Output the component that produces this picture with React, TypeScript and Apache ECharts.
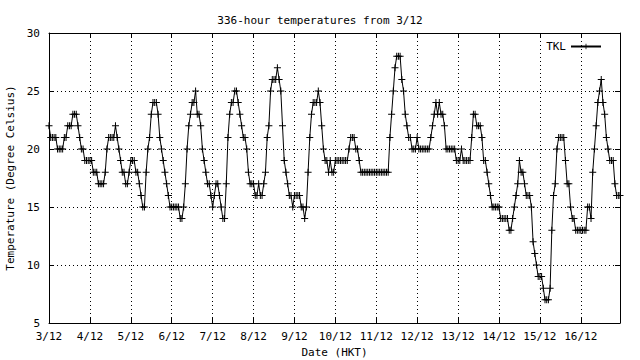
import React, { useEffect, useRef } from "react";
import * as echarts from "echarts";

const dayLabels = ["3/12", "4/12", "5/12", "6/12", "7/12", "8/12", "9/12", "10/12", "11/12", "12/12", "13/12", "14/12", "15/12", "16/12"];
const yTicks = [5, 10, 15, 20, 25, 30];

const d03 = [22, 21, 21, 21, 21, 20, 20, 20, 20, 21, 21, 22, 22, 22, 23, 23, 23, 22, 21, 20, 20, 19, 19, 19];
const d04 = [19, 19, 18, 18, 18, 17, 17, 17, 17, 18, 20, 21, 21, 21, 21, 22, 21, 20, 19, 18, 18, 17, 17, 18];
const d05 = [19, 19, 19, 18, 18, 17, 16, 15, 15, 18, 20, 21, 23, 24, 24, 24, 23, 21, 20, 19, 18, 17, 16, 15];
const d06 = [15, 15, 15, 15, 15, 14, 14, 15, 17, 20, 22, 23, 24, 24, 25, 23, 23, 22, 20, 19, 18, 17, 17, 16];
const d07 = [15, 16, 17, 17, 16, 15, 14, 14, 17, 21, 23, 24, 24, 25, 25, 24, 23, 22, 21, 21, 20, 18, 17, 17];
const d08 = [17, 16, 16, 17, 16, 16, 17, 18, 21, 22, 25, 26, 26, 26, 27, 26, 25, 22, 19, 18, 17, 16, 16, 15];
const d09 = [16, 16, 16, 16, 15, 15, 14, 15, 18, 21, 23, 24, 24, 24, 25, 24, 22, 20, 19, 19, 18, 19, 18, 18];
const d10 = [19, 19, 19, 19, 19, 19, 19, 19, 20, 21, 21, 21, 20, 20, 19, 18, 18, 18, 18, 18, 18, 18, 18, 18];
const d11 = [18, 18, 18, 18, 18, 18, 18, 18, 21, 23, 25, 27, 28, 28, 28, 26, 25, 23, 22, 21, 21, 20, 20, 20];
const d12 = [21, 20, 20, 20, 20, 20, 20, 20, 21, 22, 23, 24, 23, 24, 23, 23, 22, 20, 20, 20, 20, 20, 20, 19];
const d13 = [19, 19, 20, 19, 19, 19, 19, 19, 21, 23, 23, 22, 22, 22, 21, 19, 19, 18, 17, 16, 15, 15, 15, 15];
const d14 = [15, 14, 14, 14, 14, 14, 13, 13, 14, 15, 16, 17, 19, 18, 18, 17, 16, 16, 16, 15, 12, 11, 10, 9];
const d15 = [9, 9, 8, 7, 7, 7, 8, 13, 16, 17, 20, 21, 21, 21, 21, 19, 17, 17, 15, 14, 14, 13, 13, 13];
const d16 = [13, 13, 13, 13, 15, 15, 14, 18, 20, 22, 24, 25, 26, 24, 23, 21, 20, 19, 19, 19, 17, 16, 16, 16];

const temps = [...d03, ...d04, ...d05, ...d06, ...d07, ...d08, ...d09, ...d10, ...d11, ...d12, ...d13, ...d14, ...d15, ...d16];

const FONT = "DejaVu Sans Mono";
const PLUS = "path://M0,3h7v1h-7z M3,0h1v7h-1z";

export default function App() {
  const ref = useRef<HTMLDivElement>(null);
  useEffect(() => {
    if (!ref.current) return;
    const chart = echarts.init(ref.current, null, { renderer: "svg" });
    const txt = { fontFamily: FONT, fontSize: 11, color: "#000" };
    const xBase = {
      type: "value" as const,
      min: 0,
      max: temps.length - 1,
      interval: 24,
      axisLine: { show: true, onZero: false, lineStyle: { color: "#000", width: 1 } },
      axisTick: { show: true, inside: true, length: 5, lineStyle: { color: "#000" } },
    };
    const yBase = {
      type: "value" as const,
      min: yTicks[0],
      max: yTicks[yTicks.length - 1],
      interval: 5,
      axisLine: { show: true, onZero: false, lineStyle: { color: "#000", width: 1 } },
      axisTick: { show: true, inside: true, length: 5, lineStyle: { color: "#000" } },
    };
    chart.setOption({
      animation: false,
      backgroundColor: "#fff",
      title: {
        text: "336-hour temperatures from 3/12",
        left: "center",
        top: 10,
        textStyle: { ...txt, fontWeight: "normal" },
      },
      legend: {
        right: 33,
        top: 36,
        align: "right",
        itemWidth: 30,
        itemHeight: 7,
        itemGap: 10,
        textStyle: { ...txt },
        data: ["TKL"],
      },
      grid: { left: 49, right: 20, top: 33, bottom: 37, containLabel: false, outerBoundsMode: "none" },
      xAxis: [
        {
          ...xBase,
          position: "bottom",
          name: "Date (HKT)",
          nameLocation: "middle",
          nameGap: 24,
          nameTextStyle: { ...txt },
          axisLabel: {
            ...txt,
            margin: 8,
            formatter: (v: number) => dayLabels[Math.round(v / 24)] ?? "",
          },
          splitLine: { show: true, lineStyle: { color: "#000", type: [1, 3], width: 1 } },
        },
        {
          ...xBase,
          position: "top",
          axisLabel: { show: false },
          splitLine: { show: false },
        },
      ],
      yAxis: [
        {
          ...yBase,
          position: "left",
          name: "Temperature (Degree Celsius)",
          nameLocation: "middle",
          nameGap: 33,
          nameTextStyle: { ...txt },
          axisLabel: { ...txt, margin: 9 },
          splitLine: { show: true, lineStyle: { color: "#000", type: [1, 3], width: 1 } },
        },
        {
          ...yBase,
          position: "right",
          axisLabel: { show: false },
          splitLine: { show: false },
        },
      ],
      series: [
        {
          name: "TKL",
          type: "line",
          xAxisIndex: 0,
          yAxisIndex: 0,
          data: temps.map((t, i) => [i, t]),
          symbol: PLUS,
          symbolSize: 7,
          showAllSymbol: true,
          color: "#000",
          itemStyle: { color: "#000" },
          lineStyle: { color: "#000", width: 1 },
        },
      ],
    });
    return () => chart.dispose();
  }, []);
  return (
    <div
      ref={ref}
      style={{ position: "fixed", left: 0, top: 0, width: 640, height: 360, background: "#fff" }}
    />
  );
}
